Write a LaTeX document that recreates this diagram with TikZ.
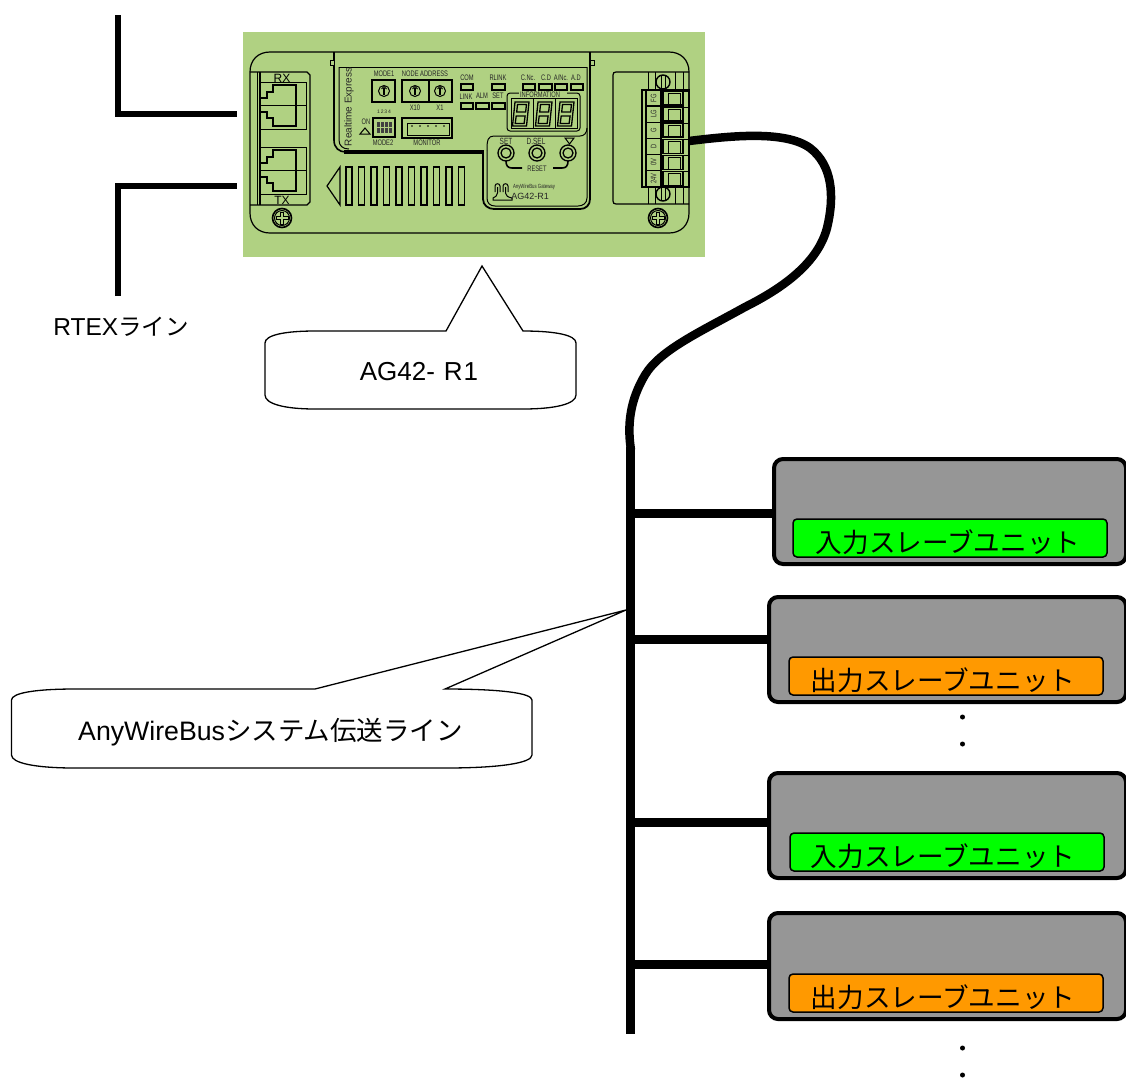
\documentclass[tikz,border=0pt]{standalone}
\usepackage{fontspec}
\setmainfont{Noto Sans CJK JP}
\newfontfamily\devfont{Liberation Sans}
\newfontfamily\narrowfont[FakeStretch=0.72]{Liberation Sans}
\definecolor{panelgreen}{HTML}{B0D182}
\definecolor{unitgray}{HTML}{969696}
\definecolor{labgreen}{HTML}{00FF00}
\definecolor{laborange}{HTML}{FF9900}
\newcommand{\fsz}[1]{\fontsize{#1}{#1}\selectfont}
\tikzset{
  x=1pt,y=-1pt,
  wire/.style={line width=6pt,line cap=butt,line join=miter},
  bus/.style={line width=9pt,line cap=butt},
  cable/.style={line width=8.5pt,line cap=butt,line join=round},
  unitbody/.style={draw=black,fill=unitgray,line width=4pt,rounded corners=9pt,outer sep=0pt,inner sep=0pt,anchor=north west},
  lab/.style={draw=black,line width=1.5pt,rounded corners=4pt,outer sep=0pt,inner sep=0pt,anchor=north west,minimum height=38pt,minimum width=314pt},
  callout/.style={draw=black,fill=white,line width=1.3pt},
  dev/.style={draw=black,line width=1pt},
  tiny/.style={font=\narrowfont\fsz{8},text=black!85,inner sep=0pt},
  led/.style={draw=black,line width=1.2pt,fill=panelgreen},
  big/.style={inner sep=0pt},
  lbl/.style={font=\fsz{26.6},inner sep=0pt},
}
\begin{document}
\begin{tikzpicture}
\useasboundingbox (0,0) rectangle (1126,1077);
% panel
\fill[panelgreen] (243,32) rectangle (705,257);
% body
\draw[dev,line width=1.2pt] (250,72) .. controls (250,60) and (258,52) .. (270,52) -- (669,52) .. controls (681,52) and (689,60) .. (689,72) -- (689,213) .. controls (689,225) and (681,233) .. (669,233) -- (270,233) .. controls (258,233) and (250,225) .. (250,213) -- cycle;
% left jacks
\draw[dev,line width=1.2pt] (250,72) -- (307,72) -- (310,75) -- (310,202) -- (307,205) -- (250,205);
\draw[dev] (257,72) -- (257,205);
\draw[dev,line width=2pt] (260,72) -- (260,205);
\foreach \t in {0,65}{
  \begin{scope}[yshift=-\t pt]
    \draw[dev,line width=.8pt] (260,82) rectangle (306,129);
    \draw[dev,line width=.8pt] (260,105) -- (306,105);
    \draw[dev,line width=1.2pt] (261,98) -- (267,98) -- (267,92) -- (273,92) -- (273,85) -- (296,85) -- (296,126) -- (273,126) -- (273,118) -- (267,118) -- (267,112) -- (261,112);
  \end{scope}
}
\node[font=\devfont\fsz{12},inner sep=0pt] (rx) at (282,78) {RX};
\node[font=\devfont\fsz{12},inner sep=0pt] (tx) at (282,200) {TX};
% panel outline
\draw[dev,line width=1.6pt] (334,52) -- (334,140) .. controls (334,148) and (339,152) .. (346,152);
\draw[dev] (339,67) -- (587,67);
\draw[dev] (339,67) -- (339,140) .. controls (339,146) and (343,149) .. (349,149);
\draw[dev,line width=3.5pt] (344,152) -- (483,152);
\draw[dev,line width=1.8pt] (483,150) -- (483,199) .. controls (483,205) and (488,209) .. (494,209) -- (580,209) .. controls (586,209) and (590,205) .. (590,199) -- (590,52);
\draw[dev] (487,150) .. controls (487,140) and (488,136) .. (494,136) -- (580,136) .. controls (584,136) and (587,133) .. (587,128);
\draw[dev] (487,150) -- (487,198) .. controls (487,203) and (490,206) .. (495,206) -- (578,206) .. controls (583,206) and (587,203) .. (587,198) -- (587,67);
\fill[black] (330,60) rectangle (335,66);
\fill[panelgreen] (331,61) rectangle (334,65);
\fill[black] (590,60) rectangle (595,66);
\fill[panelgreen] (591,61) rectangle (594,65);
% labels top
\node[tiny,font=\devfont\fsz{10},rotate=90] (rt) at (349,107) {Realtime Express};
\node[tiny] (m1) at (384,74) {MODE1};
\node[tiny] (na) at (425,74) {NODE ADDRESS};
\draw[dev,line width=1.3pt] (372,80) rectangle (395,102);
\draw[dev,line width=1.3pt] (402,80) rectangle (429,102);
\draw[dev,line width=1.3pt] (429,80) rectangle (452,102);
\foreach \c in {384,415,440}{
  \draw[dev] (\c,91) circle (5.5);
  \draw[dev,line width=1.4pt] (\c,95) -- (\c,88);
  \draw[dev,line width=.8pt] (\c-2.5,89) -- (\c,86.5) -- (\c+2.5,89);
}
\node[tiny] at (415,108) {X10};
\node[tiny] at (440,108) {X1};
\node[tiny] at (467,78) {COM};
\node[tiny] at (466,97) {LINK};
\node[tiny] at (482,96) {ALM};
\node[tiny] at (498,96) {SET};
\node[tiny] at (498,78) {RLINK};
\node[tiny] at (528,78) {C.Nc.};
\node[tiny] at (546,78) {C.D};
\node[tiny] at (561,78) {A/Nc.};
\node[tiny] at (576,78) {A.D};
\foreach \a/\b/\c/\d in {461/84/473/90,461/103/473/109,476/103/489/109,492/103/505/109,492/84/505/90,523/84/535/90,539/84/552/90,555/84/567/90,571/84/583/90}{
  \draw[led] (\a,\b) rectangle (\c,\d);
}
% information
\draw[dev,rounded corners=3pt] (520,93) -- (507,93) -- (507,131) -- (580,131) -- (580,93) -- (567,93);
\node[tiny,fill=panelgreen,inner xsep=1pt] at (540,95) {INFORMATION};
\draw[dev] (511,98) rectangle (577,128);
\draw[dev] (533,98) -- (533,128);
\draw[dev] (555,98) -- (555,128);
\foreach \c in {521,544,566}{
  \begin{scope}[xshift=\c pt]
    \draw[dev,line width=1.3pt] (-6,102) -- (8,102) -- (5.5,126) -- (-8.5,126) -- cycle;
    \draw[dev,line width=1.3pt] (-3.5,104.5) -- (5.5,104.5) -- (4.6,112) -- (-4.3,112) -- cycle;
    \draw[dev,line width=1.3pt] (-4.8,116) -- (4.1,116) -- (3.1,123.5) -- (-5.8,123.5) -- cycle;
  \end{scope}
}
% dip
\node[tiny] at (366,122) {ON};
\draw[dev] (365,128) -- (370,134) -- (360,134) -- cycle;
\node[tiny,font=\devfont\fsz{5}] at (384,112) {1\,2\,3\,4};
\draw[dev,line width=1.3pt] (373,118) rectangle (395,137);
\fill[black!75] (377,122) rectangle (392,133);
\foreach \c in {380,384,388}{\draw[panelgreen,line width=.5pt] (\c,122) -- (\c,133);}
\draw[panelgreen,line width=.5pt] (377,127.5) -- (392,127.5);
\node[tiny] at (383,143) {MODE2};
% monitor
\draw[dev,line width=1.3pt] (402,118) rectangle (452,138);
\draw[dev] (407,123) -- (449,123) -- (449,135) -- (407,135) -- cycle;
\foreach \c in {412,420,428,436,444}{\fill[black] (\c,126) circle (.8);}
\node[tiny] at (427,143) {MONITOR};
% vents
\draw[dev,line width=1.2pt] (340,167) -- (327,186) -- (340,205) -- cycle;
\foreach \i in {0,...,9}{
  \draw[dev,line width=1.2pt] ({346+12.5*\i},167) rectangle ({352+12.5*\i},205);
}
% buttons
\foreach \c in {506,537,568}{
  \draw[dev,line width=1.3pt] (\c,153) circle (8);
  \draw[dev,line width=1.3pt] (\c,153) circle (5);
}
\node[tiny,font=\narrowfont\fsz{9}] at (506,141) {SET};
\node[tiny,font=\narrowfont\fsz{9}] at (536,141) {D.SEL};
\draw[dev] (565,138) -- (574,138) -- (569.5,144) -- cycle;
\node[tiny] at (537,169) {RESET};
\draw[dev,line width=1.6pt] (506,161) .. controls (506,166) and (508,168) .. (512,168) -- (522,168);
\draw[dev,line width=1.6pt] (568,161) .. controls (568,166) and (566,168) .. (562,168) -- (553,168);
% logo
\draw[dev] (495,192) -- (495,186) .. controls (495,183) and (500,183) .. (500,186) -- (500,192);
\draw[dev] (503,192) -- (503,186) .. controls (503,183) and (508,183) .. (508,186) -- (508,192);
\draw[dev] (497.5,187) -- (497.5,193) .. controls (497.5,196) and (495,197) .. (493,198) -- (493,200) -- (512,200) -- (512,198) .. controls (508,197) and (505.5,196) .. (505.5,193) -- (505.5,187);
\node[tiny,font=\narrowfont\fsz{6}] at (534,187) {AnyWireBus Gateway};
\node[tiny,font=\devfont\fsz{9}] at (530,196) {AG42-R1};
% screws
\foreach \c in {282,658}{
  \draw[dev,line width=1.6pt] (\c,218) circle (9.5);
  \draw[dev] (\c,218) circle (7.5);
  \draw[dev] (\c-6,216.5) -- (\c-1.5,216.5) -- (\c-1.5,212) -- (\c+1.5,212) -- (\c+1.5,216.5) -- (\c+6,216.5) -- (\c+6,219.5) -- (\c+1.5,219.5) -- (\c+1.5,224) -- (\c-1.5,224) -- (\c-1.5,219.5) -- (\c-6,219.5) -- cycle;
}
% terminal
\draw[dev,line width=1.2pt] (689,72) -- (616,72) .. controls (614,72) and (613,73) .. (613,75) -- (613,201) .. controls (613,203) and (614,204) .. (616,204) -- (689,204);
\draw[dev,line width=1.4pt] (642,90) rectangle (689,187);
\draw[dev] (648,72) -- (648,90) (655,72) -- (655,90) (675,72) -- (675,90) (683,72) -- (683,90);
\draw[dev] (648,187) -- (648,204) (655,187) -- (655,204) (675,187) -- (675,204) (683,187) -- (683,204);
\draw[dev,line width=1.3pt] (646,90) rectangle (661,187);
\foreach \i/\t in {0/FG,1/LG,2/G,3/D,4/0V,5/24V}{
  \draw[dev,line width=1.3pt] (646,{90+16.1*\i}) -- (661,{90+16.1*\i});
  \node[tiny,rotate=90,font=\narrowfont\fsz{8}] at (653.5,{98+16.1*\i}) {\t};
  \draw[dev,line width=1.6pt] (663,{91+16.1*\i}) rectangle (683,{105+16.1*\i});
  \draw[dev] (668,{93+16.1*\i}) rectangle (680,{105+16.1*\i});
  \draw[dev] (683,{91+16.1*\i}) -- (689,{91+16.1*\i});
}
\foreach \c in {82,194}{
  \draw[dev,line width=1.4pt,fill=panelgreen] (663,\c) circle (7);
  \draw[dev] (661,\c-6) -- (661,\c+6) (665,\c-6) -- (665,\c+6);
}
% RTEX
\coordinate (r1) at (117.7,15);
\coordinate (r2) at (117.7,114);
\coordinate (r3) at (237,114);
\coordinate (r4) at (117.7,296);
\coordinate (r5) at (117.7,186);
\coordinate (r6) at (237,186);
\draw[wire] (r1) -- (r2) -- (r3);
\draw[wire] (r4) -- (r5) -- (r6);
\node[big] (rtex) at (121,327) {\devfont\fsz{24.5}RTEX\fontspec{Noto Sans CJK JP}\fsz{23.5}ライン};
% callout 1
\coordinate (tip1) at (482,266);
\draw[callout] (446,331) -- (tip1) -- (523,331) .. controls (555,331) and (576,335) .. (576,343) -- (576,395) .. controls (576,404) and (555,409) .. (523,409) -- (315,409) .. controls (285,409) and (265,404) .. (265,395) -- (265,343) .. controls (265,335) and (285,331) .. (315,331) -- cycle;
\node[big] (c1t) at (419,372) {\devfont\fsz{26}AG42-\hspace{9pt}R\hspace{1pt}1};
% callout 2
\coordinate (tip2) at (626,610);
\draw[callout] (315,689) -- (tip2) -- (445,689) .. controls (500,689) and (532,693) .. (532,700) -- (532,755) .. controls (532,763) and (500,768) .. (445,768) -- (75,768) .. controls (35,768) and (11.5,763) .. (11.5,755) -- (11.5,700) .. controls (11.5,693) and (35,689) .. (75,689) -- cycle;
\node[big] (c2t) at (270.5,732) {\devfont\fsz{26.7}AnyWireBus\fontspec{Noto Sans CJK JP}\fsz{26.5}システム伝送ライン};
% cable and bus
\coordinate (busT) at (630,447);
\coordinate (busB) at (630,1034);
\coordinate (cab0) at (689,141);
\draw[cable] (cab0) .. controls (730,136) and (785,130) .. (810,148) .. controls (832,165) and (835,195) .. (827,228) .. controls (818,262) and (785,287) .. (745,307) .. controls (700,332) and (660,350) .. (645,375) .. controls (630,400) and (627,425) .. (631,450);
\draw[bus] (busT) -- (busB);
\coordinate (b1) at (630,513);
\coordinate (b2) at (630,639);
\coordinate (b3) at (630,822);
\coordinate (b4) at (630,964);
% units
\node[unitbody,minimum width=352pt,minimum height=105pt] (u1) at (774,459) {};
\node[unitbody,minimum width=357pt,minimum height=105pt] (u2) at (769,597) {};
\node[unitbody,minimum width=357pt,minimum height=105pt] (u3) at (769,773) {};
\node[unitbody,minimum width=357pt,minimum height=106pt] (u4) at (769,913) {};
\draw[bus] (b1) -- (u1.west |- b1);
\draw[bus] (b2) -- (u2.west |- b2);
\draw[bus] (b3) -- (u3.west |- b3);
\draw[bus] (b4) -- (u4.west |- b4);
\node[lab,fill=labgreen] (l1) at (793,519) {};
\node[lab,fill=laborange] (l2) at (789,657) {};
\node[lab,fill=labgreen] (l3) at (790,833) {};
\node[lab,fill=laborange] (l4) at (789,974) {};
\node[lbl] (t1) at (948,542) {入力スレーブユニット};
\node[lbl] (t2) at (943,680) {出力スレーブユニット};
\node[lbl] (t3) at (943,856) {入力スレーブユニット};
\node[lbl] (t4) at (943,997) {出力スレーブユニット};
\foreach \y in {717,744,1048,1075}{\fill[black] (962.5,\y) circle (2.5);}
\end{tikzpicture}
\end{document}
